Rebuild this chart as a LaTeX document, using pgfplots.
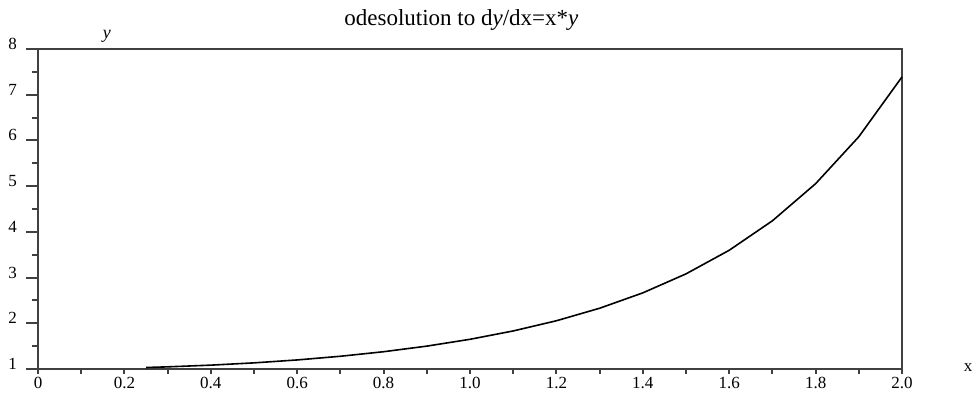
\documentclass[border=0pt]{standalone}
\usepackage{pgfplots}
\pgfplotsset{compat=1.18}
\usepackage{fontspec}
\setmainfont{Liberation Serif}
\begin{document}
\begin{tikzpicture}
\begin{axis}[
  scale only axis,
  width=432pt, height=160pt,
  xmin=0, xmax=2, ymin=1, ymax=8,
  axis line style={line width=1pt, black!75},
  xtick=\empty,
  extra x ticks={0,0.1,0.2,0.3,0.4,0.5,0.6,0.7,0.8,0.9,1.0,1.1,1.2,1.3,1.4,1.5,1.6,1.7,1.8,1.9,2.0},
  extra x tick labels={0,,0.2,,0.4,,0.6,,0.8,,1.0,,1.2,,1.4,,1.6,,1.8,,2.0},
  extra x tick style={major tick length=2.5pt, tick align=outside, xtick pos=bottom,
     tick label style={font=\fontsize{8.5}{9}\selectfont, yshift=2pt}},
  ytick={1,2,...,8},
  minor ytick={1.5,2.5,...,7.5},
  tick align=outside,
  xtick pos=bottom, ytick pos=left,
  major tick length=6pt,
  minor tick length=3pt,
  every tick/.style={line width=1pt, black!75},
  tick label style={font=\fontsize{8.5}{9}\selectfont},
  /pgf/number format/assume math mode=true,
  yticklabel style={xshift=-1pt, yshift=2.5pt},
  title={odesolution to d\textit{y}/dx=x*\textit{y}},
  title style={font=\fontsize{11.5}{12}\selectfont, at={(0.49,1.0)}, yshift=-0.5pt},
  clip=false,
]
\path[use as bounding box] (rel axis cs:-0.044,-0.0969) rectangle (rel axis cs:1.0891,1.153);
\addplot[black, line width=0.8pt] coordinates {
(0.25,1.0317) (0.3,1.0460) (0.4,1.0833) (0.5,1.1331) (0.6,1.1972)
(0.7,1.2776) (0.8,1.3771) (0.9,1.4993) (1.0,1.6487) (1.1,1.8313)
(1.2,2.0544) (1.3,2.3280) (1.4,2.6645) (1.5,3.0802) (1.6,3.5966)
(1.7,4.2415) (1.8,5.0531) (1.9,6.0800) (2.0,7.3891)
};
\node[font=\fontsize{9}{9}\selectfont\itshape, anchor=south] at (rel axis cs:0.0796,1.0) {y};
\node[font=\fontsize{8.5}{9}\selectfont] at (rel axis cs:1.0764,0.003) {x};
\end{axis}
\end{tikzpicture}
\end{document}
